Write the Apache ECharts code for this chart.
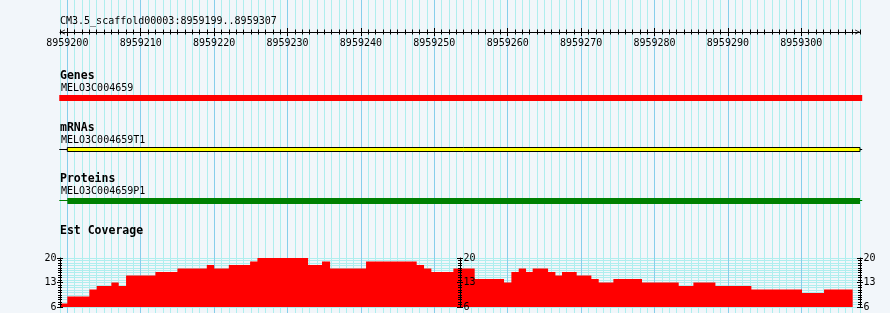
<!DOCTYPE html>
<html>
<head>
<meta charset="utf-8">
<script src="https://cdn.jsdelivr.net/npm/echarts@6/dist/echarts.min.js"></script>
<style>
html,body{margin:0;padding:0;background:#F2F6FA;}
#c{width:890px;height:313px;}
</style>
</head>
<body>
<div id="c"></div>
<script>
// ---------------- data ----------------
const viewTitle = 'CM3.5_scaffold00003:8959199..8959307';
const viewStart = 8959199;
const viewEnd = 8959308;
const rulerTickLabels = [8959200, 8959210, 8959220, 8959230, 8959240, 8959250,
                         8959260, 8959270, 8959280, 8959290, 8959300];
const trackTitles = ['Genes', 'mRNAs', 'Proteins', 'Est Coverage'];
const featureNames = ['MELO3C004659', 'MELO3C004659T1', 'MELO3C004659P1'];
const geneSpan = [8959198.9, 8959308.3];
const mrnaSpan = [8959198.9, 8959308.3];
const mrnaExon = [8959200, 8959308];
const proteinSpan = [8959198.9, 8959308.3];
const proteinExon = [8959200, 8959308];
const covEdges = [8959199, 8959200, 8959203, 8959204, 8959206, 8959207, 8959208, 8959212,
  8959215, 8959219, 8959220, 8959222, 8959224.9, 8959225.9, 8959232.8, 8959234.7,
  8959235.8, 8959240.7, 8959247.6, 8959248.6, 8959249.6, 8959252.6, 8959255.5,
  8959259.5, 8959260.5, 8959261.5, 8959262.5, 8959263.4, 8959265.5, 8959266.5,
  8959267.4, 8959269.4, 8959271.4, 8959272.4, 8959274.4, 8959278.3, 8959283.3,
  8959285.3, 8959288.3, 8959293.2, 8959300.1, 8959303.1, 8959307];
const covValues = [7, 9, 11, 12, 13, 12, 15, 16, 17, 18, 17, 18, 19, 20, 18, 19, 17, 19,
  18, 17, 16, 17, 14, 13, 16, 17, 16, 17, 16, 15, 16, 15, 14, 13, 14, 13, 12, 13, 12,
  11, 10, 11];
const covMin = 6;
const covMax = 20;
const covTickLabels = [6, 13, 20];

// ---------------- styles ----------------
const MONO = '"DejaVu Sans Mono", "Liberation Mono", monospace';
const minorGrid = '#AFEEEE';
const majorGrid = '#87CEEB';
const vColors = [];
for (let i = 0; i < 10; i++) vColors.push(i === 1 ? majorGrid : minorGrid);
const chevron = 'path://M0,10L5,0L10,10L8.4,10L5,3.2L1.6,10Z';

function hiddenAxis(gridIndex, min, max, extra) {
  return Object.assign({
    type: 'value', gridIndex: gridIndex, min: min, max: max,
    axisLine: {show: false, onZero: false}, axisTick: {show: false},
    axisLabel: {show: false}, splitLine: {show: false}
  }, extra || {});
}

function covAxes(gridIndex, position) {
  const base = {type: 'value', gridIndex: gridIndex, position: position, min: covMin, max: covMax,
    splitLine: {show: false}, z: 3};
  const lineAxis = Object.assign({}, base, {
    axisLine: {show: true, onZero: false, lineStyle: {color: '#000', width: 1}},
    axisTick: {show: false}, axisLabel: {show: false}
  });
  const minorAxis = Object.assign({}, base, {
    offset: -2, interval: 0.7,
    axisLine: {show: false, onZero: false},
    axisTick: {show: true, length: 4, lineStyle: {color: '#000', width: 1}},
    axisLabel: {show: false}
  });
  const majorAxis = Object.assign({}, base, {
    offset: -3, interval: 7,
    axisLine: {show: false, onZero: false},
    axisTick: {show: true, length: 6, lineStyle: {color: '#000', width: 1}},
    axisLabel: {show: true, margin: 6.5, fontFamily: MONO, fontSize: 10, color: '#000',
      formatter: function (v) { return covTickLabels.indexOf(v) >= 0 ? String(v) : ''; }}
  });
  return [lineAxis, minorAxis, majorAxis];
}

const covData = covEdges.map(function (x, i) {
  return [x, covValues[Math.min(i, covValues.length - 1)]];
});

function txt(x, y, text, bold) {
  return {type: 'text', x: x, y: y, z: 5, style: {
    text: text, fill: '#000', verticalAlign: 'middle',
    font: (bold ? 'bold 11.5px ' : '10px ') + MONO}};
}

const option = {
  animation: false,
  backgroundColor: '#F2F6FA',
  grid: [
    {left: 60, width: 800, top: 0, height: 313, outerBoundsMode: 'none'},
    {left: 60, width: 800, top: 32, height: 20, outerBoundsMode: 'none'},
    {left: 60, width: 800, top: 258, height: 49, outerBoundsMode: 'none'},
    {left: 60, width: 400, top: 258, height: 49, outerBoundsMode: 'none'},
    {left: 460, width: 400, top: 258, height: 49, outerBoundsMode: 'none'}
  ],
  xAxis: [
    hiddenAxis(0, viewStart, viewEnd, {interval: 1,
      splitLine: {show: true, lineStyle: {color: vColors, width: 1}}}),
    {
      type: 'value', gridIndex: 1, position: 'top', min: viewStart, max: viewEnd, interval: 1,
      axisLine: {show: true, onZero: false, lineStyle: {color: '#000', width: 1},
        symbol: [chevron, chevron], symbolSize: [6, 5], symbolOffset: [2.5, -2.5]},
      axisTick: {show: false},
      axisLabel: {show: true, inside: true, margin: 6, customValues: rulerTickLabels,
        fontFamily: MONO, fontSize: 10, color: '#000',
        formatter: function (v) { return rulerTickLabels.indexOf(v) >= 0 ? String(v) : ''; }},
      splitLine: {show: false}
    },
    {
      type: 'value', gridIndex: 1, position: 'top', offset: -2.5, min: viewStart, max: viewEnd, interval: 1,
      axisLine: {show: false, onZero: false},
      axisTick: {show: true, length: 5, lineStyle: {color: '#000', width: 1}},
      axisLabel: {show: false}, splitLine: {show: false}
    },
    {
      type: 'value', gridIndex: 1, position: 'top', offset: -4, min: viewStart, max: viewEnd, interval: 1,
      axisLine: {show: false, onZero: false},
      axisTick: {show: true, length: 8, customValues: rulerTickLabels, lineStyle: {color: '#000', width: 1}},
      axisLabel: {show: false}, splitLine: {show: false}
    },
    hiddenAxis(2, viewStart, viewEnd),
    hiddenAxis(3, 0, 1),
    hiddenAxis(4, 0, 1)
  ],
  yAxis: [
    hiddenAxis(0, 0, 313, {inverse: true}),
    hiddenAxis(1, 0, 1),
    hiddenAxis(2, covMin, covMax, {interval: 0.7,
      splitLine: {show: true, lineStyle: {color: minorGrid, width: 1}}})
  ].concat(covAxes(3, 'left'), covAxes(3, 'right'), covAxes(4, 'right')),
  series: [
    {
      name: trackTitles[0], type: 'custom', xAxisIndex: 0, yAxisIndex: 0, clip: false,
      data: [geneSpan],
      renderItem: function (params, api) {
        const a = api.coord([api.value(0), 95]);
        const b = api.coord([api.value(1), 101]);
        return {type: 'rect', shape: {x: a[0], y: a[1], width: b[0] - a[0], height: b[1] - a[1]},
          style: {fill: '#FF0000'}};
      }
    },
    {
      name: trackTitles[1], type: 'custom', xAxisIndex: 0, yAxisIndex: 0, clip: false,
      data: [[mrnaSpan[0], mrnaSpan[1], mrnaExon[0], mrnaExon[1]]],
      renderItem: function (params, api) {
        const s = api.coord([api.value(0), 149.5]);
        const e = api.coord([api.value(1), 149.5]);
        const a = api.coord([api.value(2), 147.5]);
        const b = api.coord([api.value(3), 151.5]);
        return {type: 'group', children: [
          {type: 'line', shape: {x1: s[0], y1: s[1], x2: e[0], y2: e[1]},
            style: {stroke: '#000', lineWidth: 1}},
          {type: 'rect', shape: {x: a[0], y: a[1], width: b[0] - a[0], height: b[1] - a[1]},
            style: {fill: '#FFFF00', stroke: '#000', lineWidth: 1}}
        ]};
      }
    },
    {
      name: trackTitles[2], type: 'custom', xAxisIndex: 0, yAxisIndex: 0, clip: false,
      data: [[proteinSpan[0], proteinSpan[1], proteinExon[0], proteinExon[1]]],
      renderItem: function (params, api) {
        const s = api.coord([api.value(0), 200.5]);
        const e = api.coord([api.value(1), 200.5]);
        const a = api.coord([api.value(2), 198]);
        const b = api.coord([api.value(3), 204]);
        return {type: 'group', children: [
          {type: 'line', shape: {x1: s[0], y1: s[1], x2: e[0], y2: e[1]},
            style: {stroke: '#008000', lineWidth: 1}},
          {type: 'rect', shape: {x: a[0], y: a[1], width: b[0] - a[0], height: b[1] - a[1]},
            style: {fill: '#008000'}}
        ]};
      }
    },
    {
      name: trackTitles[3], type: 'line', xAxisIndex: 4, yAxisIndex: 2, step: 'end',
      data: covData, symbol: 'none', showSymbol: false,
      lineStyle: {width: 0, color: '#FF0000'},
      areaStyle: {color: '#FF0000', opacity: 1, origin: 'start'}
    }
  ],
  graphic: [
    txt(60, 21, viewTitle, false),
    txt(60, 76, trackTitles[0], true),
    txt(61, 88, featureNames[0], false),
    txt(60, 128, trackTitles[1], true),
    txt(61, 140, featureNames[1], false),
    txt(60, 179, trackTitles[2], true),
    txt(61, 191, featureNames[2], false),
    txt(60, 231, trackTitles[3], true)
  ]
};

const chart = echarts.init(document.getElementById('c'), null, {renderer: 'canvas'});
chart.setOption(option);
</script>
</body>
</html>
